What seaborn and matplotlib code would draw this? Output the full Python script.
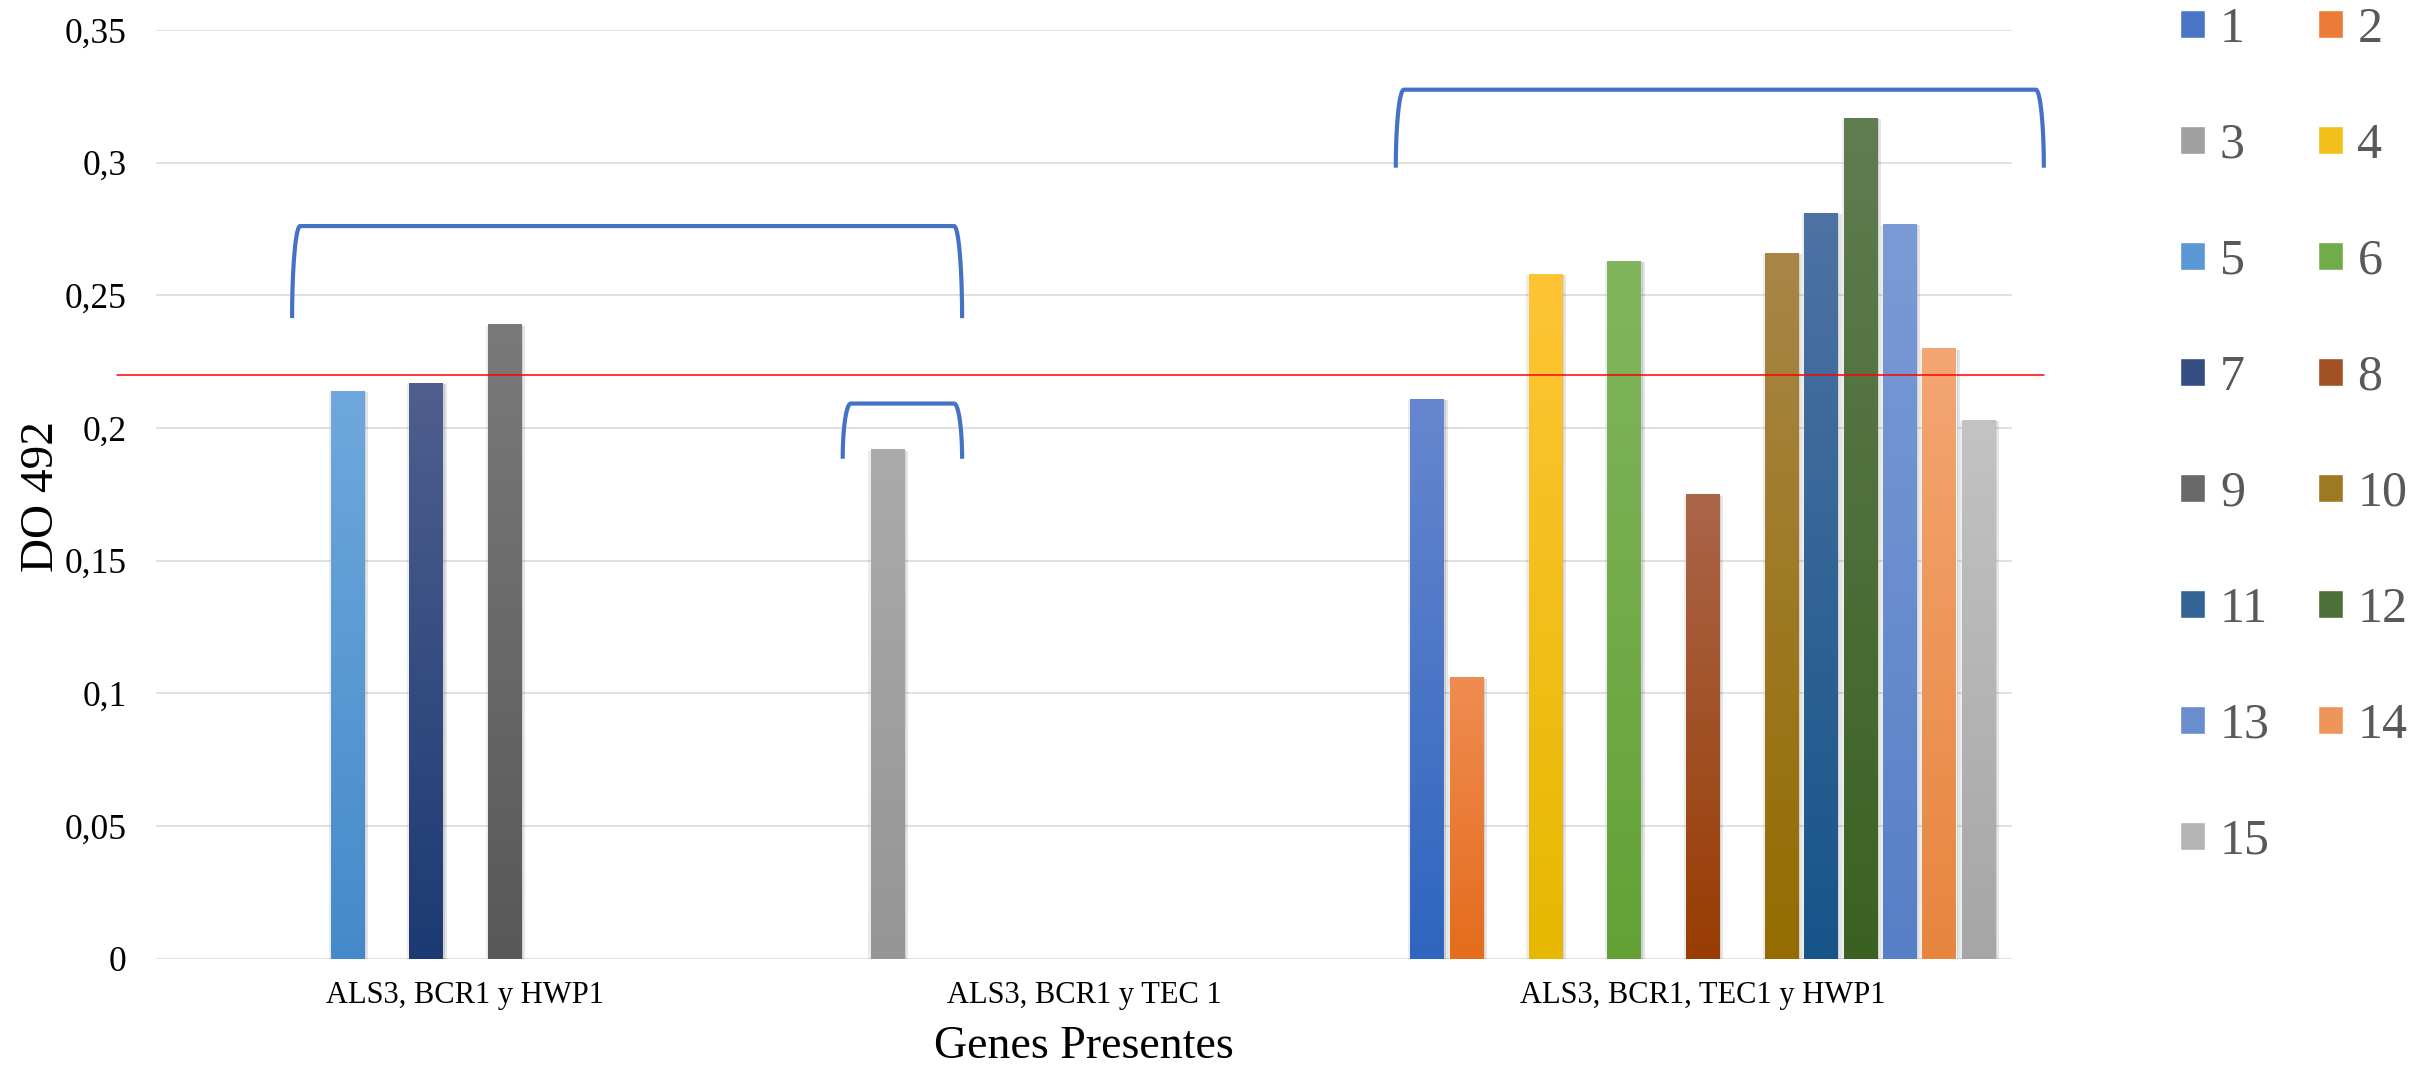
import numpy as np
import pandas as pd
import matplotlib
matplotlib.use("Agg")
import matplotlib.pyplot as plt
import seaborn as sns
from matplotlib import colors as mcolors, patheffects as pe
from matplotlib.colors import LinearSegmentedColormap

# ---------------- data ----------------
categories = ["ALS3, BCR1 y HWP1", "ALS3, BCR1 y TEC 1", "ALS3, BCR1, TEC1 y HWP1"]
series = [str(i) for i in range(1, 16)]
vals_als3_bcr1_hwp1 = [None, None, None, None, 0.214, None, 0.217, None, 0.239,
                       None, None, None, None, None, None]
vals_als3_bcr1_tec1 = [None, None, 0.192, None, None, None, None, None, None,
                       None, None, None, None, None, None]
vals_all_four = [0.211, 0.106, None, 0.258, None, 0.263, None, 0.175, None,
                 0.266, 0.281, 0.317, 0.277, 0.230, 0.203]
y_ticks = [0, 0.05, 0.10, 0.15, 0.20, 0.25, 0.30, 0.35]
y_tick_labels = ["0", "0,05", "0,1", "0,15", "0,2", "0,25", "0,3", "0,35"]
threshold = 0.22
x_label = "Genes Presentes"
y_label = "DO 492"

# ---------------- styles ----------------
top_colors = ["#6687CF", "#F08C52", "#ABABAB", "#FFC535", "#6FA8DC", "#82B65E", "#4F5F8F",
              "#AB654A", "#7A7A7A", "#A88647", "#4D73A3", "#607D52", "#7C9BD6", "#F4A673", "#C3C3C3"]
bottom_colors = ["#2F65BF", "#E46C1C", "#959595", "#E6B800", "#448ACB", "#63A135", "#1C3A72",
                 "#983C02", "#585858", "#946C00", "#175489", "#3A6122", "#567FC7", "#E7853F", "#A6A6A6"]
threshold_span = (-0.563, 2.5515)
# bracket annotations: (x_left, x_right, y_bottom, y_top) in data units
brackets = [(-0.280, 0.803, 0.2414, 0.2761),
            (0.610, 0.803, 0.1884, 0.2092),
            (1.504, 2.5515, 0.2981, 0.3275)]

def mix(c1, c2, t=0.5):
    a = np.array(mcolors.to_rgb(c1)); b = np.array(mcolors.to_rgb(c2))
    return tuple(a * (1 - t) + b * t)

mid_colors = [mix(t, b) for t, b in zip(top_colors, bottom_colors)]
palette = dict(zip(series, mid_colors))

rows = []
for cat, vals in zip(categories, [vals_als3_bcr1_hwp1, vals_als3_bcr1_tec1, vals_all_four]):
    for s, v in zip(series, vals):
        if v is not None:
            rows.append({"Genes": cat, "Serie": s, "DO": v})
df = pd.DataFrame(rows)

sns.set_style("white")
plt.rcParams["font.family"] = ["Liberation Serif", "DejaVu Serif"]

fig = plt.figure(figsize=(24.17, 10.66), dpi=100)
ax = fig.add_axes([0.06454, 0.10075, 0.76789, 0.87111])

sns.barplot(data=df, x="Genes", y="DO", hue="Serie", order=categories, hue_order=series,
            palette=palette, saturation=1, width=0.955, gap=0.16, errorbar=None, ax=ax)

# gradient fill + soft shadow on bars
grad = np.linspace(0, 1, 256).reshape(-1, 1)
mids = np.array(mid_colors)
for patch in list(ax.patches):
    h = patch.get_height()
    if not np.isfinite(h) or h <= 0:
        continue
    fc = np.array(patch.get_facecolor()[:3])
    idx = int(np.argmin(((mids - fc) ** 2).sum(axis=1)))
    patch.set_path_effects([
        pe.SimplePatchShadow(offset=(3, -1), shadow_rgbFace="black", alpha=0.10),
        pe.SimplePatchShadow(offset=(1.5, -1), shadow_rgbFace="black", alpha=0.12),
        pe.SimplePatchShadow(offset=(-1.5, -1), shadow_rgbFace="black", alpha=0.08),
        pe.Normal()])
    patch.set_zorder(3)
    cmap = LinearSegmentedColormap.from_list("g%d" % idx, [bottom_colors[idx], top_colors[idx]])
    x, w = patch.get_x(), patch.get_width()
    im = ax.imshow(grad, extent=[x, x + w, 0, h], origin="lower", aspect="auto",
                   cmap=cmap, zorder=3.1, interpolation="bilinear")
    im.set_clip_path(patch)

ax.set_xlim(-0.5, 2.5)
ax.set_ylim(0, 0.35)
ax.set_aspect("auto")
ax.set_yticks(y_ticks)
ax.set_yticklabels(y_tick_labels)
for s in ax.spines.values():
    s.set_visible(False)
ax.yaxis.grid(True, color="#D9D9D9", linewidth=1.1)
ax.xaxis.grid(False)
ax.set_axisbelow(True)
ax.tick_params(axis="both", length=0)
ax.tick_params(axis="y", labelsize=25.5, pad=21, labelcolor="black")
ax.tick_params(axis="x", labelsize=22, pad=16, labelcolor="black")

ax.set_xlabel(x_label, fontsize=33, color="black")
ax.xaxis.set_label_coords(0.5, -0.072)
ax.set_ylabel(y_label, fontsize=34, color="black")
ax.yaxis.set_label_coords(-0.0503, 0.498)

# threshold line
ax.plot(list(threshold_span), [threshold, threshold], color="#FF0000", linewidth=1.1,
        clip_on=False, zorder=4)

# brackets with rounded (quarter-ellipse) ends
rx = 0.013
t = np.linspace(0, np.pi / 2, 40)
for x0, x1, yb, yt in brackets:
    xl = x0 + rx * (1 - np.cos(t))
    yl = yb + (yt - yb) * np.sin(t)
    xr = x1 - rx * (1 - np.cos(t[::-1]))
    yr = yb + (yt - yb) * np.sin(t[::-1])
    ax.plot(np.concatenate([xl, xr]), np.concatenate([yl, yr]), color="#4472C4",
            linewidth=3, clip_on=False, zorder=5, solid_capstyle="butt")

# legend, row-major in two columns
old = ax.get_legend()
handles = list(old.legend_handles)
labels = [tx.get_text() for tx in old.get_texts()]
old.remove()
order = list(range(0, 15, 2)) + list(range(1, 15, 2))
leg = ax.legend([handles[i] for i in order], [labels[i] for i in order], ncol=2,
                loc="upper left", bbox_to_anchor=(2180 / 2417, 0.994), bbox_transform=fig.transFigure,
                frameon=False, fontsize=36, handlelength=0.5, handleheight=0.5,
                handletextpad=0.3, columnspacing=0.95, labelspacing=1.39,
                borderpad=0, borderaxespad=0)
for tx in leg.get_texts():
    tx.set_color("#595959")

fig.savefig("out.png", dpi=100)
